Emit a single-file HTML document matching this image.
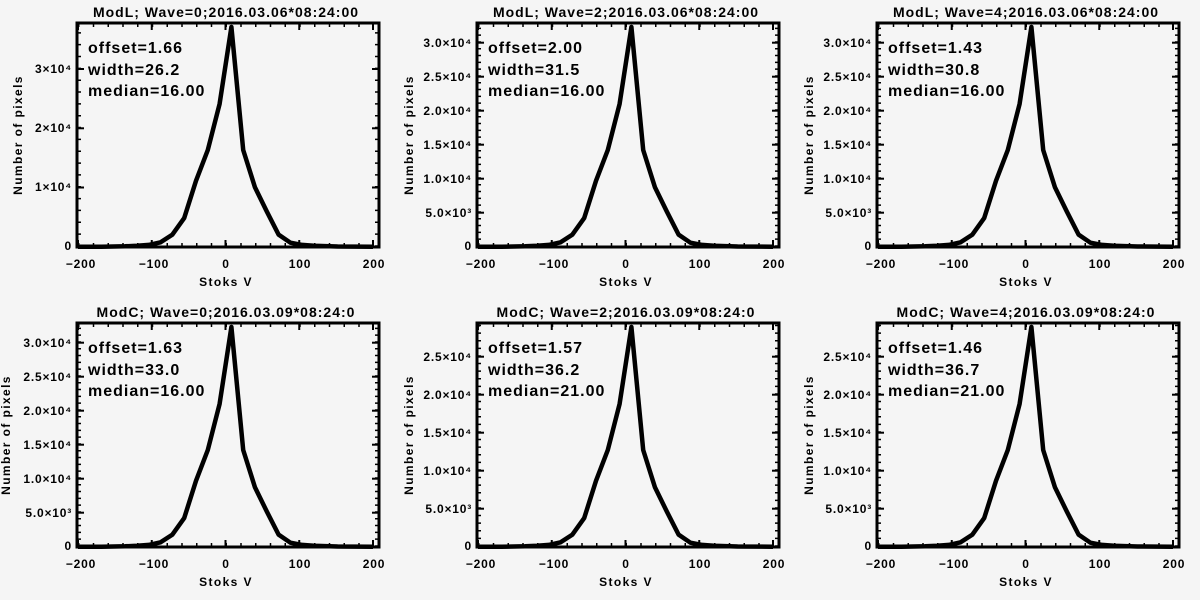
<!DOCTYPE html>
<html><head><meta charset="utf-8"><style>
html,body{margin:0;padding:0;background:#f5f5f5}
svg{display:block}
text{font-family:"Liberation Sans",sans-serif;font-weight:bold;fill:#000}
.t{font-size:14px;letter-spacing:1px}
.a{font-size:16px;letter-spacing:1px}
.k{font-size:12px;letter-spacing:0.8px}
.l{font-size:12px;letter-spacing:1.4px}
</style></head><body>
<svg width="1200" height="600" viewBox="0 0 1200 600" xmlns="http://www.w3.org/2000/svg">
<rect width="1200" height="600" fill="#f5f5f5"/>
<defs>
<g id="base">
<rect x="77" y="23" width="302" height="224" fill="none" stroke="#000" stroke-width="3"/>
<line x1="78" y1="245" x2="374" y2="245" stroke="#000" stroke-width="4" stroke-dasharray="1.5 13.25"/>
<line x1="78" y1="25" x2="374" y2="25" stroke="#000" stroke-width="4" stroke-dasharray="1.5 13.25"/>
<g stroke="#000" stroke-width="2">
<line x1="78" y1="247" x2="78" y2="240"/><line x1="151.75" y1="247" x2="151.75" y2="240"/><line x1="225.5" y1="247" x2="225.5" y2="240"/><line x1="299.25" y1="247" x2="299.25" y2="240"/><line x1="373" y1="247" x2="373" y2="240"/>
<line x1="78" y1="23" x2="78" y2="30"/><line x1="151.75" y1="23" x2="151.75" y2="30"/><line x1="225.5" y1="23" x2="225.5" y2="30"/><line x1="299.25" y1="23" x2="299.25" y2="30"/><line x1="373" y1="23" x2="373" y2="30"/>
</g>
<g class="k" text-anchor="middle">
<text x="81" y="268">−200</text><text x="154" y="268">−100</text><text x="226" y="268">0</text><text x="300" y="268">100</text><text x="374" y="268">200</text>
</g>
<text class="l" x="226" y="286" text-anchor="middle">Stoks V</text>
<polyline fill="none" stroke="#000" stroke-width="4.5" stroke-linejoin="round" points="78,246.7 101.6,246.7 125.2,246.3 137,245.8 148.8,244.9 160.6,242.3 172.4,234.6 184.2,218.1 196,180.8 207.8,150 219.6,103.9 231.4,27 243.2,150 255,187.4 266.8,211.5 278.6,234.6 290.4,242.7 302.2,244.9 314,245.8 337.6,246.5 373,246.7"/>
</g>
<g id="y1">
<line x1="79" y1="246.7" x2="79" y2="23" stroke="#000" stroke-width="4" stroke-dasharray="1.5 10.34"/>
<line x1="377" y1="246.7" x2="377" y2="23" stroke="#000" stroke-width="4" stroke-dasharray="1.5 10.34"/>
<g stroke="#000" stroke-width="2"><line x1="77" y1="187.5" x2="84" y2="187.5"/><line x1="77" y1="128.3" x2="84" y2="128.3"/><line x1="77" y1="69" x2="84" y2="69"/><line x1="372" y1="187.5" x2="379" y2="187.5"/><line x1="372" y1="128.3" x2="379" y2="128.3"/><line x1="372" y1="69" x2="379" y2="69"/></g>
<g class="k" text-anchor="end"><text x="72" y="250">0</text><text x="72" y="191">1×10⁴</text><text x="72" y="132">2×10⁴</text><text x="72" y="73">3×10⁴</text></g>
</g>
<g id="y2">
<line x1="79" y1="246.7" x2="79" y2="23" stroke="#000" stroke-width="4" stroke-dasharray="1.5 5.3"/>
<line x1="377" y1="246.7" x2="377" y2="23" stroke="#000" stroke-width="4" stroke-dasharray="1.5 5.3"/>
<g stroke="#000" stroke-width="2"><line x1="77" y1="212.7" x2="84" y2="212.7"/><line x1="77" y1="178.7" x2="84" y2="178.7"/><line x1="77" y1="144.7" x2="84" y2="144.7"/><line x1="77" y1="110.7" x2="84" y2="110.7"/><line x1="77" y1="76.7" x2="84" y2="76.7"/><line x1="77" y1="42.7" x2="84" y2="42.7"/>
<line x1="372" y1="212.7" x2="379" y2="212.7"/><line x1="372" y1="178.7" x2="379" y2="178.7"/><line x1="372" y1="144.7" x2="379" y2="144.7"/><line x1="372" y1="110.7" x2="379" y2="110.7"/><line x1="372" y1="76.7" x2="379" y2="76.7"/><line x1="372" y1="42.7" x2="379" y2="42.7"/></g>
<g class="k" text-anchor="end"><text x="72" y="250">0</text><text x="72" y="217">5.0×10³</text><text x="72" y="183">1.0×10⁴</text><text x="72" y="149">1.5×10⁴</text><text x="72" y="115">2.0×10⁴</text><text x="72" y="81">2.5×10⁴</text><text x="72" y="47">3.0×10⁴</text></g>
</g>
<g id="y3">
<line x1="79" y1="246.7" x2="79" y2="23" stroke="#000" stroke-width="4" stroke-dasharray="1.5 6.1"/>
<line x1="377" y1="246.7" x2="377" y2="23" stroke="#000" stroke-width="4" stroke-dasharray="1.5 6.1"/>
<g stroke="#000" stroke-width="2"><line x1="77" y1="208.7" x2="84" y2="208.7"/><line x1="77" y1="170.7" x2="84" y2="170.7"/><line x1="77" y1="132.7" x2="84" y2="132.7"/><line x1="77" y1="94.7" x2="84" y2="94.7"/><line x1="77" y1="56.7" x2="84" y2="56.7"/>
<line x1="372" y1="208.7" x2="379" y2="208.7"/><line x1="372" y1="170.7" x2="379" y2="170.7"/><line x1="372" y1="132.7" x2="379" y2="132.7"/><line x1="372" y1="94.7" x2="379" y2="94.7"/><line x1="372" y1="56.7" x2="379" y2="56.7"/></g>
<g class="k" text-anchor="end"><text x="72" y="250">0</text><text x="72" y="213">5.0×10³</text><text x="72" y="175">1.0×10⁴</text><text x="72" y="137">1.5×10⁴</text><text x="72" y="99">2.0×10⁴</text><text x="72" y="61">2.5×10⁴</text></g>
</g>
</defs>

<g transform="translate(0,0)">
<use href="#base"/><use href="#y1"/>
<text class="t" x="226" y="17" text-anchor="middle">ModL; Wave=0;2016.03.06*08:24:00</text>
<text class="l" transform="translate(22,135) rotate(-90)" text-anchor="middle">Number of pixels</text>
<text class="a" x="88" y="53">offset=1.66</text><text class="a" x="88" y="75">width=26.2</text><text class="a" x="88" y="96">median=16.00</text>
</g>
<g transform="translate(400,0)">
<use href="#base"/><use href="#y2"/>
<text class="t" x="226" y="17" text-anchor="middle">ModL; Wave=2;2016.03.06*08:24:00</text>
<text class="l" transform="translate(13,135) rotate(-90)" text-anchor="middle">Number of pixels</text>
<text class="a" x="88" y="53">offset=2.00</text><text class="a" x="88" y="75">width=31.5</text><text class="a" x="88" y="96">median=16.00</text>
</g>
<g transform="translate(800,0)">
<use href="#base"/><use href="#y2"/>
<text class="t" x="226" y="17" text-anchor="middle">ModL; Wave=4;2016.03.06*08:24:00</text>
<text class="l" transform="translate(13,135) rotate(-90)" text-anchor="middle">Number of pixels</text>
<text class="a" x="88" y="53">offset=1.43</text><text class="a" x="88" y="75">width=30.8</text><text class="a" x="88" y="96">median=16.00</text>
</g>
<g transform="translate(0,300)">
<use href="#base"/><use href="#y2"/>
<text class="t" x="226" y="17" text-anchor="middle">ModC; Wave=0;2016.03.09*08:24:0</text>
<text class="l" transform="translate(10,135) rotate(-90)" text-anchor="middle">Number of pixels</text>
<text class="a" x="88" y="53">offset=1.63</text><text class="a" x="88" y="75">width=33.0</text><text class="a" x="88" y="96">median=16.00</text>
</g>
<g transform="translate(400,300)">
<use href="#base"/><use href="#y3"/>
<text class="t" x="226" y="17" text-anchor="middle">ModC; Wave=2;2016.03.09*08:24:0</text>
<text class="l" transform="translate(13,135) rotate(-90)" text-anchor="middle">Number of pixels</text>
<text class="a" x="88" y="53">offset=1.57</text><text class="a" x="88" y="75">width=36.2</text><text class="a" x="88" y="96">median=21.00</text>
</g>
<g transform="translate(800,300)">
<use href="#base"/><use href="#y3"/>
<text class="t" x="226" y="17" text-anchor="middle">ModC; Wave=4;2016.03.09*08:24:0</text>
<text class="l" transform="translate(13,135) rotate(-90)" text-anchor="middle">Number of pixels</text>
<text class="a" x="88" y="53">offset=1.46</text><text class="a" x="88" y="75">width=36.7</text><text class="a" x="88" y="96">median=21.00</text>
</g>
</svg>
</body></html>
